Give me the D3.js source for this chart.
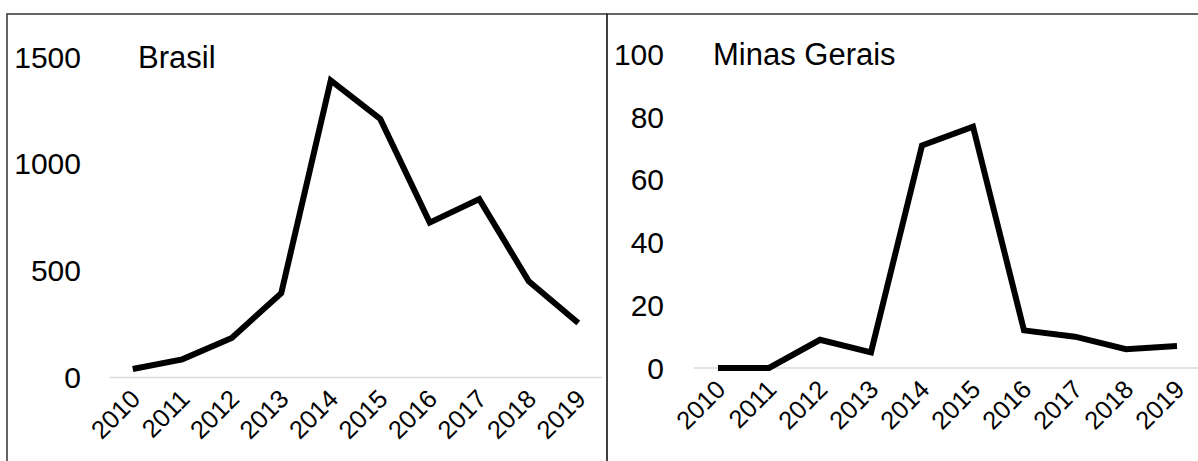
<!DOCTYPE html>
<html>
<head>
<meta charset="utf-8">
<script src="https://cdn.jsdelivr.net/npm/d3@7"></script>
<style>
  html, body { margin: 0; padding: 0; background: #fff; }
  svg { display: block; font-family: "Liberation Sans", Arial, sans-serif; }
</style>
</head>
<body>
<svg id="chart" width="1198" height="461"></svg>
<script>
const years = ["2010","2011","2012","2013","2014","2015","2016","2017","2018","2019"];
const brasilValues = [40, 85, 185, 395, 1390, 1210, 725, 835, 450, 255];
const minasValues = [0, 0, 9, 5, 71, 77, 12, 10, 6, 7];
const brasilTicks = [0, 500, 1000, 1500];
const minasTicks = [0, 20, 40, 60, 80, 100];
const panelTitles = ["Brasil", "Minas Gerais"];

const svg = d3.select("#chart");

// panel borders
svg.append("rect").attr("x", 7).attr("y", 14).attr("width", 600).attr("height", 470)
  .attr("fill", "none").attr("stroke", "#333").attr("stroke-width", 1.5);
svg.append("rect").attr("x", 607).attr("y", 14).attr("width", 600).attr("height", 470)
  .attr("fill", "none").attr("stroke", "#333").attr("stroke-width", 1.5);

const panels = [
  { values: brasilValues, ticks: brasilTicks, title: panelTitles[0],
    yDomain: [0, 1500], yRange: [377.5, 57], xRange: [108, 603], axisX: [110, 602],
    labelX: 81, titleX: 138 },
  { values: minasValues, ticks: minasTicks, title: panelTitles[1],
    yDomain: [0, 100], yRange: [368, 54.5], xRange: [692.5, 1202.5], axisX: [694, 1198],
    labelX: 664, titleX: 713 }
];

panels.forEach(p => {
  const x = d3.scaleBand().domain(years).range(p.xRange);
  const y = d3.scaleLinear().domain(p.yDomain).range(p.yRange);
  const g = svg.append("g");

  // baseline axis
  g.append("line")
    .attr("x1", p.axisX[0]).attr("x2", p.axisX[1])
    .attr("y1", y(0)).attr("y2", y(0))
    .attr("stroke", "#d9d9d9").attr("stroke-width", 1.5);

  // y tick labels
  g.selectAll(".ytick").data(p.ticks).enter().append("text")
    .attr("x", p.labelX).attr("y", d => y(d))
    .attr("dy", "0.35em")
    .attr("text-anchor", "end")
    .attr("font-size", 30).attr("fill", "#000")
    .text(d => d);

  // x tick labels
  g.selectAll(".xtick").data(years).enter().append("text")
    .attr("transform", d => `translate(${x(d) + x.bandwidth() / 2 + 9},${y(0) + 23}) rotate(-45)`)
    .attr("text-anchor", "end")
    .attr("font-size", 25.5).attr("fill", "#000")
    .text(d => d);

  // line
  const line = d3.line()
    .x((d, i) => x(years[i]) + x.bandwidth() / 2)
    .y(d => y(d));
  g.append("path").datum(p.values)
    .attr("d", line)
    .attr("fill", "none").attr("stroke", "#000")
    .attr("stroke-width", 6).attr("stroke-linejoin", "miter");

  // panel title
  g.append("text")
    .attr("x", p.titleX).attr("y", y(p.yDomain[1]))
    .attr("dy", "0.35em")
    .attr("font-size", 31).attr("fill", "#000")
    .text(p.title);
});
</script>
</body>
</html>
